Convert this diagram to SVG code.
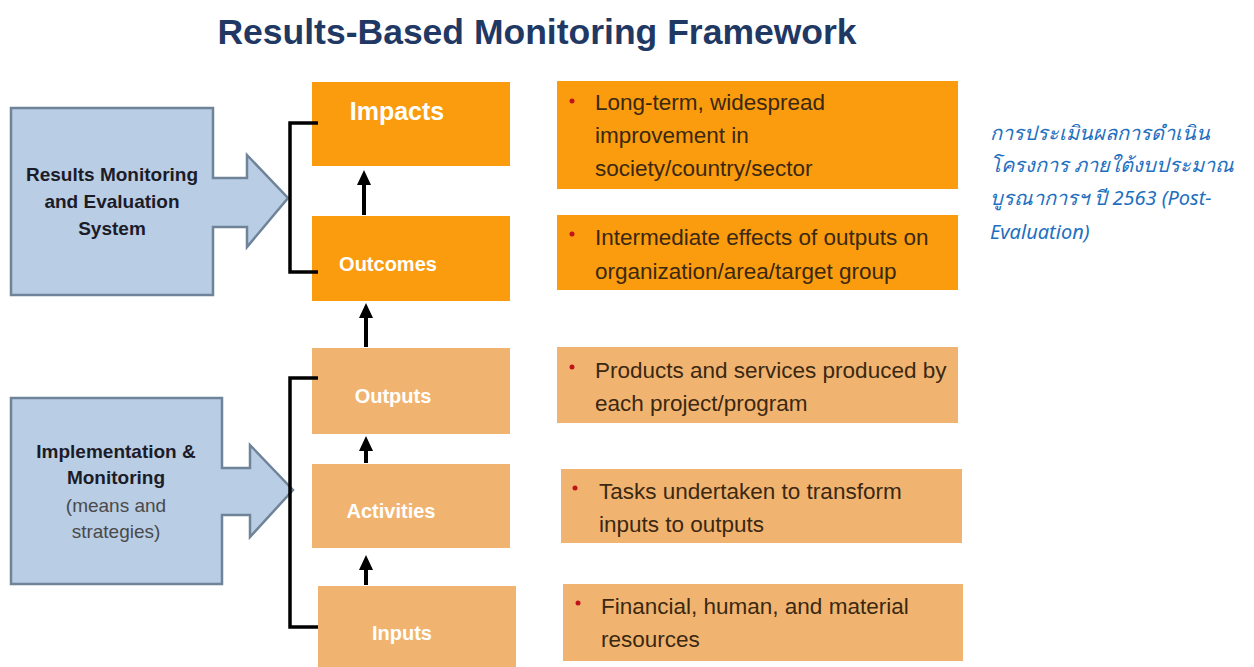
<svg xmlns="http://www.w3.org/2000/svg" width="1254" height="667" viewBox="0 0 1254 667">
<defs>
<style>
.title{font-family:"Liberation Sans",Arial,sans-serif;font-weight:bold;font-size:35.5px;fill:#1F3864;}
.blue{fill:#B9CDE5;stroke:#6F8399;stroke-width:2.5;}
.lbl{font-family:"Liberation Sans",Arial,sans-serif;font-size:19px;text-anchor:middle;}
.lb{font-weight:bold;fill:#1c1c28;}
.ln{fill:#4a4a4a;}
.o1{fill:#FA9C0E;}
.o2{fill:#F1B470;}
.nt{font-family:"Liberation Sans",Arial,sans-serif;font-weight:bold;font-size:20px;fill:#FFFFFF;text-anchor:middle;}
.dt{font-family:"Liberation Sans",Arial,sans-serif;font-size:22.5px;fill:#3B2812;}
.dot{fill:#C0141A;}
.br{fill:none;stroke:#000;stroke-width:3.5;}
.ar{stroke:#000;stroke-width:4;fill:none;}
.ah{fill:#000;}
.th{font-family:"Noto Sans","DejaVu Sans",sans-serif;font-style:italic;font-size:20px;fill:#1E6FC0;}
</style>
</defs>
<rect width="1254" height="667" fill="#FFFFFF"/>
<text class="title" x="537" y="44" text-anchor="middle">Results-Based Monitoring Framework</text>

<g id="results-system">
<path class="blue" d="M11,108 H213 V178 H247 V155 L288,198 L247,247 V227 H213 V295 H11 Z"/>
<text class="lbl lb" x="112" y="181">Results Monitoring</text>
<text class="lbl lb" x="112" y="208">and Evaluation</text>
<text class="lbl lb" x="112" y="235">System</text>
</g>

<g id="implementation">
<path class="blue" d="M11,398 H222 V468 H250 V445 L293,490 L250,537 V515 H222 V584 H11 Z"/>
<text class="lbl lb" x="116" y="458">Implementation &amp;</text>
<text class="lbl lb" x="116" y="484">Monitoring</text>
<text class="lbl ln" x="116" y="512">(means and</text>
<text class="lbl ln" x="116" y="538">strategies)</text>
</g>

<g id="impacts">
<rect class="o1" x="312" y="82" width="198" height="84"/>
<text class="nt" x="397" y="120" style="font-size:25px">Impacts</text>
</g>
<g id="outcomes">
<rect class="o1" x="312" y="216" width="198" height="85"/>
<text class="nt" x="388" y="271">Outcomes</text>
</g>
<g id="outputs">
<rect class="o2" x="312" y="348" width="198" height="86"/>
<text class="nt" x="393" y="403">Outputs</text>
</g>
<g id="activities">
<rect class="o2" x="312" y="464" width="198" height="84"/>
<text class="nt" x="391" y="518">Activities</text>
</g>
<g id="inputs">
<rect class="o2" x="318" y="586" width="198" height="81"/>
<text class="nt" x="402" y="640">Inputs</text>
</g>

<g id="desc-impacts">
<rect class="o1" x="557" y="81" width="401" height="108"/>
<circle class="dot" cx="572" cy="101" r="2.5"/>
<text class="dt" x="595" y="110">Long-term, widespread</text>
<text class="dt" x="595" y="143">improvement in</text>
<text class="dt" x="595" y="176">society/country/sector</text>
</g>
<g id="desc-outcomes">
<rect class="o1" x="557" y="215" width="401" height="75"/>
<circle class="dot" cx="572" cy="234" r="2.5"/>
<text class="dt" x="595" y="245">Intermediate effects of outputs on</text>
<text class="dt" x="595" y="279">organization/area/target group</text>
</g>
<g id="desc-outputs">
<rect class="o2" x="557" y="347" width="401" height="76"/>
<circle class="dot" cx="572" cy="367" r="2.5"/>
<text class="dt" x="595" y="378">Products and services produced by</text>
<text class="dt" x="595" y="411">each project/program</text>
</g>
<g id="desc-activities">
<rect class="o2" x="561" y="469" width="401" height="74"/>
<circle class="dot" cx="575" cy="488" r="2.5"/>
<text class="dt" x="599" y="499">Tasks undertaken to transform</text>
<text class="dt" x="599" y="532">inputs to outputs</text>
</g>
<g id="desc-inputs">
<rect class="o2" x="563" y="584" width="400" height="77"/>
<circle class="dot" cx="578" cy="603" r="2.5"/>
<text class="dt" x="601" y="614">Financial, human, and material</text>
<text class="dt" x="601" y="647">resources</text>
</g>

<g id="note">
<text class="th" x="990" y="140">การประเมินผลการดำเนิน</text>
<text class="th" x="990" y="172">โครงการ ภายใต้งบประมาณ</text>
<text class="th" x="990" y="205">บูรณาการฯ ปี 2563  (Post-</text>
<text class="th" x="990" y="239">Evaluation)</text>
</g>

<g id="connectors">
<path class="br" d="M318,123 H290 V272 H318"/>
<path class="br" d="M318,378 H290 V627 H318"/>
<line class="ar" x1="364" y1="215" x2="364" y2="182"/>
<path class="ah" d="M364,170 L371,185 H357 Z"/>
<line class="ar" x1="366" y1="347" x2="366" y2="315"/>
<path class="ah" d="M366,303 L373,318 H359 Z"/>
<line class="ar" x1="366" y1="463" x2="366" y2="447"/>
<path class="ah" d="M366,436 L373,451 H359 Z"/>
<line class="ar" x1="366" y1="585" x2="366" y2="566"/>
<path class="ah" d="M366,555 L373,570 H359 Z"/>
</g>
</svg>
